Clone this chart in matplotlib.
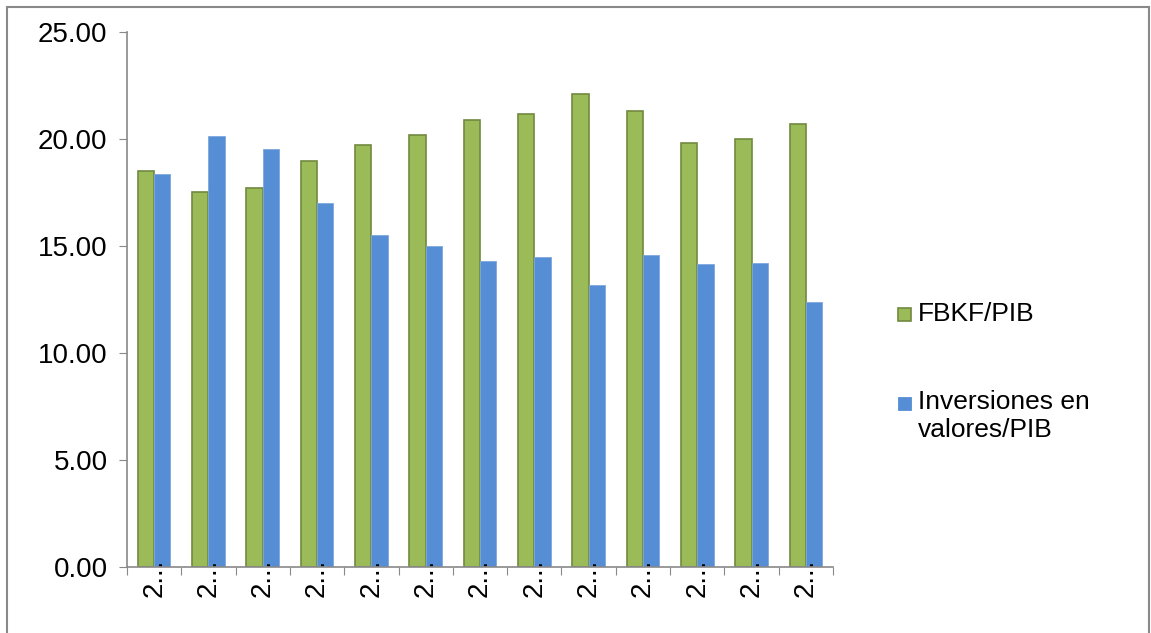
import numpy as np
import matplotlib
matplotlib.use("Agg")
import matplotlib.pyplot as plt
from matplotlib.patches import Rectangle

plt.rcParams['font.family'] = ['Liberation Sans', 'DejaVu Sans']

# data
labels = ["2..."] * 13
series_names = ["FBKF/PIB", "Inversiones en\nvalores/PIB"]
fbkf = [18.5, 17.5, 17.7, 18.95, 19.7, 20.2, 20.9, 21.15, 22.1, 21.3, 19.8, 20.0, 20.7]
inversiones = [18.35, 20.15, 19.55, 17.0, 15.5, 15.0, 14.3, 14.5, 13.2, 14.6, 14.15, 14.2, 12.4]

green = "#9BBB59"
green_edge = "#71893F"
blue = "#558ED5"
axis_gray = "#898989"

fig = plt.figure(figsize=(11.51, 6.33), dpi=100)
ax = fig.add_axes([127 / 1151, 66 / 633, (833 - 127) / 1151, (567 - 32) / 633])

x = np.arange(len(labels))
w = 0.3
ax.bar(x - w / 2, fbkf, w, color=green, edgecolor=green_edge, linewidth=1.2)
ax.bar(x + w / 2, inversiones, w, color=blue, edgecolor="#7FA8DE", linewidth=0.6)

ax.set_xlim(-0.5, len(labels) - 0.5)
ax.set_ylim(0, 25)
ax.set_yticks(np.arange(0, 25.01, 5))
ax.set_yticklabels([f"{v:.2f}" for v in np.arange(0, 25.01, 5)], fontsize=20)

# ticks at group boundaries, labels at centers
ax.set_xticks(np.arange(-0.5, len(labels), 1))
ax.set_xticklabels([])
ax.set_xticks(x, minor=True)
ax.set_xticklabels(labels, minor=True, rotation=90, fontsize=20)
ax.tick_params(axis='x', which='minor', length=0, pad=-6)
ax.tick_params(axis='x', which='major', length=6, color=axis_gray, direction='out')
ax.tick_params(axis='y', length=6, color=axis_gray, direction='out', pad=8)

for s in ['top', 'right']:
    ax.spines[s].set_visible(False)
for s in ['left', 'bottom']:
    ax.spines[s].set_color(axis_gray)
    ax.spines[s].set_linewidth(1.2)

# legend drawn by hand so the square lines up with the first line
fw, fh = 1151, 633
fig.patches.append(Rectangle((898 / fw, 1 - 321 / fh), 13 / fw, 13 / fh, transform=fig.transFigure,
                             facecolor=green, edgecolor=green_edge, linewidth=1.2))
fig.text(918 / fw, 1 - 314 / fh, series_names[0], fontsize=19, va='center', ha='left')
fig.patches.append(Rectangle((898 / fw, 1 - 410 / fh), 13 / fw, 13 / fh, transform=fig.transFigure,
                             facecolor=blue, edgecolor=blue, linewidth=0.6))
fig.text(918 / fw, 1 - 390 / fh, series_names[1], fontsize=19, va='top', ha='left', linespacing=1.2)

# outer chart border
fig.patches.append(Rectangle((7 / fw, -0.01), 1142 / fw, 1 - 7 / fh + 0.01, transform=fig.transFigure,
                             facecolor='none', edgecolor=axis_gray, linewidth=1.5))

fig.savefig("out.png", dpi=100)
